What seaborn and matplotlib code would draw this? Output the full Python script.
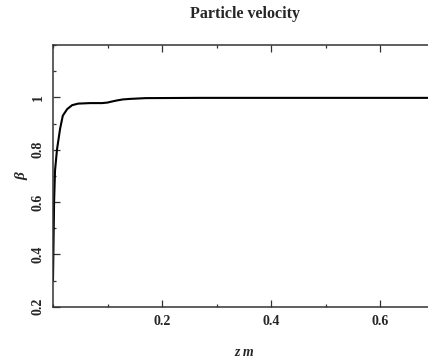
import matplotlib
matplotlib.use("Agg")
import matplotlib.pyplot as plt
import seaborn as sns
import pandas as pd
from matplotlib.ticker import MultipleLocator

z_m = [0.0, 0.001, 0.002, 0.0037, 0.0073, 0.013, 0.018, 0.026, 0.035, 0.046,
       0.068, 0.09, 0.1, 0.108, 0.117, 0.128, 0.141, 0.17, 0.27, 0.45, 0.7]
beta = [0.3, 0.45, 0.6, 0.72, 0.8, 0.88, 0.93, 0.955, 0.97, 0.976,
        0.978, 0.978, 0.98, 0.984, 0.988, 0.992, 0.994, 0.997, 0.998, 0.998, 0.998]

df = pd.DataFrame({"z": z_m, "beta": beta})

sns.set_style("ticks")
plt.rcParams["font.family"] = ["Liberation Serif", "DejaVu Serif"]

fig = plt.figure(figsize=(4.28, 3.61), dpi=100)
ax = fig.add_axes([53 / 428, 1 - 306.7 / 361, (0.7 * 545) / 428, (306.7 - 45) / 361])
sns.lineplot(data=df, x="z", y="beta", ax=ax, color="black", linewidth=1.5, sort=False)

ax.set_xlim(0, 0.7)
ax.set_ylim(0.2, 1.2)
ax.xaxis.set_minor_locator(MultipleLocator(0.1))
ax.yaxis.set_minor_locator(MultipleLocator(0.1))
ax.set_xticks([0.2, 0.4, 0.6])
ax.set_xticklabels(["0.2", "0.4", "0.6"])
ax.set_yticks([0.2, 0.4, 0.6, 0.8, 1.0])
ax.set_yticklabels(["0.2", "0.4", "0.6", "0.8", "1"])
ax.tick_params(which="both", direction="in", top=True, right=False, color="#333333")
ax.tick_params(which="major", length=5, width=0.9, labelsize=10, pad=6)
ax.tick_params(which="minor", length=2.5, width=0.9)
for lab in ax.get_yticklabels():
    lab.set_rotation(90)
    lab.set_va("center")
for lab in ax.get_xticklabels() + ax.get_yticklabels():
    lab.set_fontweight("bold")
for s in ax.spines.values():
    s.set_linewidth(1.1)
    s.set_color("#333333")

ax.set_xlabel("z m", fontsize=10, fontstyle="italic", fontweight="bold", labelpad=13)
ax.set_ylabel("β", fontsize=11, fontstyle="italic", fontweight="bold", labelpad=2)
fig.text(245 / 428, 1 - 14 / 361, "Particle velocity", ha="center", va="center",
         fontsize=11.5, fontweight="bold")

fig.savefig("out.png", dpi=100)
